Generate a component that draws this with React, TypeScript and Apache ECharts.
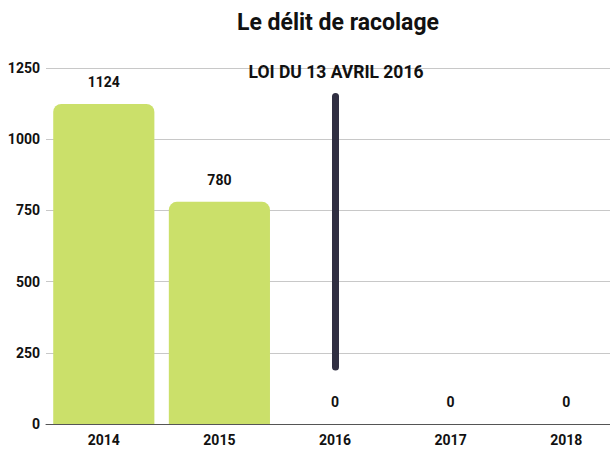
import React, { useEffect, useRef } from "react";
import * as echarts from "echarts";

const categories = ["2014", "2015", "2016", "2017", "2018"];
const values = [1124, 780, 0, 0, 0];
const lawLine = [
  ["2016", 200],
  ["2016", 1150],
];
const lawLabel = "LOI DU 13 AVRIL 2016";
const title = "Le délit de racolage";

const FONT = "Roboto, 'Noto Sans', sans-serif";

export default function App() {
  const ref = useRef<HTMLDivElement>(null);
  useEffect(() => {
    if (!ref.current) return;
    const chart = echarts.init(ref.current, null, { renderer: "svg" });
    chart.setOption({
      animation: false,
      textStyle: { fontFamily: FONT },
      grid: { left: 46, width: 578, top: 68, height: 356 },
      graphic: [
        {
          type: "text",
          x: 338,
          y: 22,
          style: {
            text: title,
            font: `bold 23px ${FONT}`,
            fill: "#111",
            align: "center",
            verticalAlign: "middle",
          },
        },
        {
          type: "text",
          x: 336,
          y: 72,
          z: 10,
          style: {
            text: lawLabel,
            font: `bold 17.5px ${FONT}`,
            fill: "#111",
            align: "center",
            verticalAlign: "middle",
          },
        },
      ],
      xAxis: {
        type: "category",
        data: categories,
        axisTick: { show: false },
        axisLine: { lineStyle: { color: "#555", width: 1 } },
        axisLabel: {
          color: "#111",
          fontWeight: "bold",
          fontSize: 14,
          fontFamily: FONT,
          margin: 9,
        },
      },
      yAxis: {
        type: "value",
        min: 0,
        max: 1250,
        interval: 250,
        axisLine: { show: false },
        axisTick: { show: false },
        splitLine: { lineStyle: { color: "#c8c8c8", width: 1 } },
        axisLabel: {
          color: "#111",
          fontWeight: "bold",
          fontSize: 14,
          fontFamily: FONT,
          margin: 6,
          formatter: (v: number) => String(v),
        },
      },
      series: [
        {
          type: "bar",
          data: values,
          barCategoryGap: "12.5%",
          itemStyle: { color: "#cbe06a", borderRadius: [8, 8, 0, 0] },
          label: {
            show: true,
            position: "top",
            distance: 15,
            color: "#111",
            fontWeight: "bold",
            fontSize: 14,
            fontFamily: FONT,
          },
          markLine: {
            silent: true,
            symbol: "none",
            label: { show: false },
            lineStyle: { color: "#302f42", width: 7, type: "solid", cap: "round" },
            data: [
              [
                { coord: lawLine[0] },
                { coord: lawLine[1] },
              ],
            ],
          },
        },
      ],
    });
    return () => chart.dispose();
  }, []);
  return (
    <div
      style={{
        position: "absolute",
        left: 0,
        top: 0,
        width: 610,
        height: 450,
        overflow: "hidden",
      }}
    >
      <div ref={ref} style={{ width: 630, height: 450 }} />
    </div>
  );
}
